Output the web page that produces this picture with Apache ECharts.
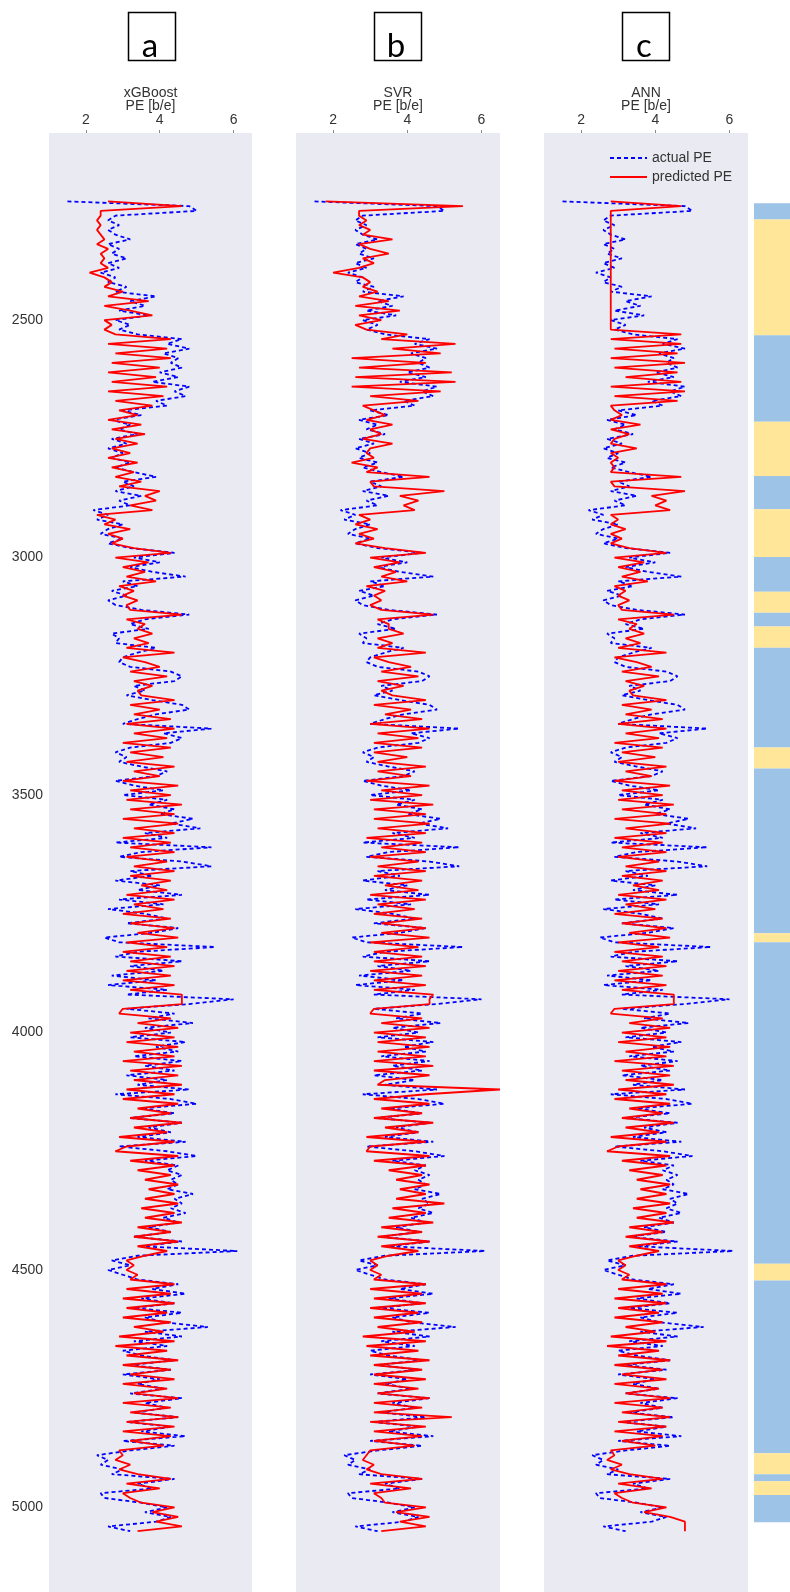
<!DOCTYPE html>
<html>
<head>
<meta charset="utf-8">
<script src="https://cdn.jsdelivr.net/npm/echarts@6/dist/echarts.min.js"></script>
<style>
html,body{margin:0;padding:0;background:#fff;}
#chart{width:790px;height:1592px;}
</style>
</head>
<body>
<div id="chart"></div>
<script>
// ---------------- DATA ----------------
const panelTitles = ['xGBoost', 'SVR', 'ANN'];
const panelLetters = ['a', 'b', 'c'];
const peTicks = [2, 4, 6];
const depthTicks = [2500, 3000, 3500, 4000, 4500, 5000];

const depth = [
2250,2260,2270,2280,2290,2300,2310,2320,2330,2340,
2350,2360,2370,2380,2390,2400,2410,2420,2430,2440,
2450,2460,2470,2480,2490,2500,2510,2520,2530,2540,
2550,2560,2570,2580,2590,2600,2610,2620,2630,2640,
2650,2660,2670,2680,2690,2700,2710,2720,2730,2740,
2750,2760,2770,2780,2790,2800,2810,2820,2830,2840,
2850,2860,2870,2880,2890,2900,2910,2920,2930,2940,
2950,2960,2970,2980,2990,3000,3010,3020,3030,3040,
3050,3060,3070,3080,3090,3100,3110,3120,3130,3140,
3150,3160,3170,3180,3190,3200,3210,3220,3230,3240,
3250,3260,3270,3280,3290,3300,3310,3320,3330,3340,
3350,3360,3370,3380,3390,3400,3410,3420,3430,3440,
3450,3460,3470,3480,3490,3500,3510,3520,3530,3540,
3550,3560,3570,3580,3590,3600,3610,3620,3630,3640,
3650,3660,3670,3680,3690,3700,3710,3720,3730,3740,
3750,3760,3770,3780,3790,3800,3810,3820,3830,3840,
3850,3860,3870,3880,3890,3900,3910,3920,3930,3940,
3950,3960,3970,3980,3990,4000,4010,4020,4030,4040,
4050,4060,4070,4080,4090,4100,4110,4120,4130,4140,
4150,4160,4170,4180,4190,4200,4210,4220,4230,4240,
4250,4260,4270,4280,4290,4300,4310,4320,4330,4340,
4350,4360,4370,4380,4390,4400,4410,4420,4430,4440,
4450,4460,4470,4480,4490,4500,4510,4520,4530,4540,
4550,4560,4570,4580,4590,4600,4610,4620,4630,4640,
4650,4660,4670,4680,4690,4700,4710,4720,4730,4740,
4750,4760,4770,4780,4790,4800,4810,4820,4830,4840,
4850,4860,4870,4880,4890,4900,4910,4920,4930,4940,
4950,4960,4970,4980,4990,5000,5010,5020,5030,5040,
5050];

const actualPE = [
1.5,4.8,5.0,2.8,2.6,2.9,2.6,2.8,3.2,2.6,
2.9,2.7,3.1,2.6,2.9,2.4,2.8,2.6,3.1,2.8,
3.9,3.2,3.6,2.9,3.7,2.8,3.2,2.9,3.4,4.6,
4.2,4.8,4.1,4.5,4.3,4.6,4.0,4.5,3.8,4.8,
4.4,4.7,3.9,4.2,3.0,3.5,2.7,3.2,2.9,3.4,
2.7,3.1,2.6,3.0,2.7,3.2,2.8,3.3,3.9,3.0,
3.3,2.8,3.5,2.9,3.2,2.2,2.6,2.3,3.0,2.6,
2.4,3.0,2.6,3.2,4.4,3.3,4.0,3.2,3.8,4.7,
3.0,3.4,2.7,3.1,2.6,2.8,3.5,4.8,3.6,3.2,
3.7,2.7,2.9,2.8,3.9,3.4,3.0,2.9,3.2,4.3,
4.6,4.4,3.3,3.6,3.1,3.8,4.6,4.8,3.9,3.4,
3.0,5.4,4.1,4.6,4.3,3.2,2.8,3.1,2.9,3.5,
4.2,3.9,2.8,3.3,4.1,3.0,4.2,3.7,4.4,4.0,
4.9,4.3,5.1,3.6,4.2,2.8,5.4,3.5,2.9,4.6,
5.4,3.2,3.8,2.8,4.0,3.4,4.6,2.9,4.1,2.6,
3.6,4.2,3.1,4.5,3.8,2.5,2.9,5.5,3.4,2.8,
4.6,3.2,4.1,2.7,3.9,2.6,4.2,3.1,6.0,4.8,
3.1,4.4,3.7,4.9,3.6,4.3,3.2,4.7,3.9,4.5,
3.3,4.6,3.6,4.4,3.1,4.2,3.4,4.8,2.8,4.3,
5.0,3.5,4.4,3.2,4.6,3.7,4.3,3.4,4.7,2.9,
4.2,5.0,3.6,4.5,4.2,4.6,4.3,4.5,4.2,4.9,
4.4,4.6,4.3,4.7,4.1,4.5,3.7,4.3,3.3,4.6,
3.5,6.1,3.4,2.7,3.2,2.6,3.0,3.4,4.5,3.8,
4.7,3.5,4.4,3.3,4.6,3.6,4.1,5.3,3.6,4.6,
3.3,4.2,3.0,3.5,4.4,3.2,4.3,3.0,4.0,3.4,
4.1,3.2,4.6,3.6,4.2,3.3,4.5,3.1,4.3,3.5,
4.7,3.0,4.4,3.2,2.3,2.6,2.4,3.0,2.7,4.4,
3.4,3.8,2.4,2.5,3.5,4.2,3.6,4.3,3.9,2.6,
3.2];

const xgbPE = [
2.6,4.6,2.4,2.4,2.3,2.4,2.3,2.4,2.5,2.3,
2.6,2.4,2.5,2.4,2.6,2.1,2.5,2.7,2.5,3.0,
2.6,3.7,2.5,3.2,3.8,2.5,2.7,2.5,2.8,4.3,
2.6,4.2,2.8,4.3,2.7,4.0,2.6,3.9,2.7,4.2,
2.6,4.1,2.8,3.8,2.9,3.4,2.6,3.5,2.7,3.6,
2.8,3.4,2.7,3.2,2.6,3.4,2.7,3.3,2.8,3.5,
2.9,4.0,3.6,3.9,3.2,3.8,2.3,2.8,2.5,3.2,
2.6,3.0,2.7,3.3,4.3,2.8,3.7,3.0,3.6,3.1,
3.9,2.9,3.3,3.0,3.4,3.1,3.2,4.6,3.1,3.6,
3.4,3.8,3.3,3.7,3.1,4.4,3.0,3.6,4.0,3.2,
4.2,3.3,3.8,3.4,3.5,4.4,3.2,4.0,3.3,4.3,
3.1,4.4,3.3,4.2,3.0,4.3,3.2,4.1,3.1,4.4,
3.3,4.0,3.0,4.5,3.2,4.3,3.1,4.6,3.2,4.4,
3.0,4.5,3.3,4.4,3.0,4.3,3.2,4.4,3.1,4.2,
3.3,4.4,3.2,4.3,3.5,4.2,3.1,4.4,3.3,4.1,
3.0,4.3,3.2,4.4,3.4,4.5,3.1,4.2,3.0,4.3,
3.2,4.4,3.1,4.3,3.0,4.4,3.2,4.6,4.6,4.6,
3.0,2.9,4.3,3.4,4.5,3.2,4.4,3.1,4.5,3.3,
4.4,3.0,4.6,3.2,4.5,3.3,4.6,3.1,4.4,3.0,
4.5,3.4,4.3,3.2,4.6,3.3,4.2,2.9,4.4,3.1,
2.8,4.5,3.2,4.4,3.4,4.3,3.6,4.5,3.7,4.4,
3.6,4.5,3.5,4.4,3.6,4.6,3.4,4.3,3.3,4.5,
3.4,4.2,3.6,3.1,3.3,3.1,3.4,3.2,4.4,3.1,
4.3,3.0,4.4,3.1,4.2,3.0,4.3,3.3,4.1,2.9,
4.4,2.8,4.2,3.1,4.5,3.0,4.3,3.2,4.4,3.0,
4.2,3.3,4.5,3.0,4.3,3.2,4.5,3.1,4.4,3.0,
4.3,3.2,4.1,2.9,3.0,2.8,3.2,2.9,3.4,4.3,
3.1,4.0,3.0,3.2,3.5,4.4,3.8,4.5,3.9,4.6,
3.4];

const svrPE = [
1.8,5.5,2.7,2.7,2.9,2.7,3.0,2.8,3.6,2.7,
3.0,3.5,2.8,3.1,2.7,2.0,2.8,3.0,2.8,3.2,
2.7,3.5,2.6,3.8,2.7,3.3,2.6,2.9,4.0,3.3,
5.3,3.6,4.9,2.5,4.5,2.7,5.2,2.6,5.3,2.5,
4.9,3.0,4.3,2.8,3.1,3.4,2.9,3.6,3.0,3.3,
2.8,3.6,3.0,2.9,3.1,2.5,3.2,2.9,4.6,3.0,
3.1,5.0,3.8,4.3,3.9,4.2,2.7,3.0,2.6,3.2,
2.7,3.1,2.6,3.4,4.5,3.0,3.8,3.1,3.7,3.3,
4.0,2.9,3.4,3.1,3.3,3.0,3.3,4.7,3.2,3.5,
3.5,3.9,3.2,3.6,3.2,4.5,3.1,3.5,4.1,3.3,
4.3,3.2,3.9,3.3,3.6,4.5,3.1,4.1,3.4,4.4,
3.0,4.6,3.2,4.3,3.1,4.4,3.1,4.0,3.2,4.5,
3.2,4.1,2.9,4.6,3.3,4.4,3.0,4.7,3.1,4.5,
3.1,4.6,3.2,4.5,2.9,4.4,3.3,4.5,3.0,4.3,
3.2,4.5,3.1,4.4,3.4,4.3,3.0,4.5,3.2,4.2,
3.1,4.4,3.3,4.5,3.3,4.6,3.0,4.3,3.1,4.4,
3.1,4.5,3.0,4.4,3.1,4.5,3.1,4.7,4.6,4.6,
3.1,3.0,4.4,3.3,4.6,3.1,4.5,3.2,4.6,3.2,
4.5,3.1,4.7,3.1,4.6,3.4,3.2,6.5,4.5,3.1,
4.6,3.3,4.4,3.1,4.7,3.4,4.3,2.9,4.5,3.0,
2.9,4.6,3.1,4.5,3.5,4.4,3.7,4.6,3.8,4.5,
3.7,5.0,3.6,4.5,3.5,4.7,3.3,4.4,3.2,4.6,
3.3,4.3,3.5,3.0,3.2,3.0,3.3,3.1,4.5,3.0,
4.4,3.1,4.5,3.0,4.3,3.1,4.4,3.2,4.2,2.8,
4.5,2.9,4.3,3.0,4.6,3.1,4.4,3.1,4.5,3.1,
4.3,3.2,4.6,3.1,4.4,3.1,5.2,3.0,4.5,3.1,
4.4,3.1,4.2,3.0,2.9,2.8,3.1,2.9,3.3,4.4,
3.0,4.1,3.1,3.3,3.4,4.5,3.7,4.6,3.8,4.5,
3.3];

const annPE = [
2.8,4.7,2.8,2.8,2.8,2.8,2.8,2.8,2.8,2.8,
2.8,2.8,2.8,2.8,2.8,2.8,2.8,2.8,2.8,2.8,
2.8,2.8,2.8,2.8,2.8,2.8,2.8,2.8,4.7,2.8,
4.7,2.9,4.6,2.8,4.8,2.9,4.6,3.2,4.7,2.8,
4.8,2.9,4.6,2.8,2.9,3.1,2.8,3.6,2.8,3.3,
2.9,2.8,3.5,2.8,3.0,2.8,2.9,2.8,4.7,2.8,
2.9,4.8,3.9,4.3,4.0,4.4,2.8,3.0,2.8,3.2,
2.8,3.1,2.8,3.3,4.3,2.9,3.7,3.0,3.6,3.1,
3.8,2.9,3.2,3.0,3.3,3.0,3.1,4.5,3.0,3.5,
3.3,3.7,3.2,3.6,3.0,4.3,2.9,3.5,3.9,3.1,
4.1,3.2,3.7,3.3,3.4,4.3,3.1,3.9,3.2,4.2,
3.0,4.3,3.2,4.1,2.9,4.2,3.1,4.0,3.0,4.3,
3.2,3.9,2.9,4.4,3.1,4.2,3.0,4.5,3.1,4.3,
2.9,4.4,3.2,4.3,2.9,4.2,3.1,4.3,3.0,4.1,
3.2,4.3,3.1,4.2,3.4,4.1,3.0,4.3,3.2,4.0,
2.9,4.2,3.1,4.3,3.3,4.4,3.0,4.1,2.9,4.2,
3.1,4.3,3.0,4.2,2.9,4.3,3.1,4.5,4.5,4.5,
2.9,2.8,4.2,3.3,4.4,3.1,4.3,3.0,4.4,3.2,
4.3,2.9,4.5,3.1,4.4,3.2,4.5,3.0,4.3,2.9,
4.4,3.3,4.2,3.1,4.5,3.2,4.1,2.8,4.3,3.0,
2.7,4.4,3.1,4.3,3.3,4.2,3.5,4.4,3.6,4.3,
3.5,4.4,3.4,4.3,3.5,4.5,3.3,4.2,3.2,4.4,
3.3,4.1,3.5,3.0,3.2,3.0,3.3,3.1,4.3,3.0,
4.2,2.9,4.3,3.0,4.1,2.9,4.2,3.2,4.0,2.8,
4.3,2.7,4.1,3.0,4.4,2.9,4.2,3.1,4.3,2.9,
4.1,3.2,4.4,2.9,4.2,3.1,4.4,3.0,4.3,2.9,
4.2,3.1,4.0,2.8,2.9,2.7,3.1,2.8,3.3,4.2,
3.0,3.9,2.9,3.1,3.4,4.3,3.7,4.4,4.8,4.8,
4.8];

// lithology column: top depth, bottom depth, class (0 = blue, 1 = yellow)
const lithTop    = [2254,2288,2532,2714,2828,2898,2999,3072,3116,3145,3190,3400,3444,3791,3810,4487,4522,4886,4930,4945,4974];
const lithBottom = [2288,2532,2714,2828,2898,2999,3072,3116,3145,3190,3400,3444,3791,3810,4487,4522,4886,4930,4945,4974,5031];
const lithClass  = [0,1,0,1,0,1,0,1,0,1,0,1,0,1,0,1,0,1,0,1,0];

const predictions = [xgbPE, svrPE, annPE];

// ---------------- CHART ----------------
const FONT = 'Liberation Sans, Arial, sans-serif';
const depthMin = 2106, depthMax = 5178;
const panelLeft = [49, 296, 544];
const panelWidth = [203, 204, 204];
const lithColors = ['#9DC3E6', '#FFE699'];

const grid = [], xAxis = [], yAxis = [], series = [];
for (let i = 0; i < 3; i++) {
  grid.push({left: panelLeft[i], width: panelWidth[i], top: 133, bottom: 0,
             show: true, backgroundColor: '#EAEAF2', borderWidth: 0});
  xAxis.push({
    type: 'value', gridIndex: i, position: 'top', min: 1, max: 6.5,
    name: panelTitles[i] + '\nPE [b/e]', nameLocation: 'middle', nameGap: 20,
    nameMoveOverlap: false,
    nameTextStyle: {fontSize: 14, lineHeight: 13.5, color: '#333', fontFamily: FONT},
    axisLine: {show: false}, splitLine: {show: false},
    axisTick: {show: true, customValues: peTicks, length: 3, lineStyle: {color: '#888'}},
    axisLabel: {customValues: peTicks, fontSize: 14, margin: 6, color: '#333', fontFamily: FONT}
  });
  yAxis.push({
    type: 'value', gridIndex: i, inverse: true, min: depthMin, max: depthMax,
    axisLine: {show: false}, splitLine: {show: false}, axisTick: {show: false},
    axisLabel: i === 0 ? {customValues: depthTicks, fontSize: 14, margin: 6, color: '#333',
                          fontFamily: FONT, formatter: v => String(v)}
                       : {show: false}
  });
  series.push({
    name: 'actual PE', type: 'line', xAxisIndex: i, yAxisIndex: i,
    data: depth.map((d, k) => [actualPE[k], d]),
    symbol: 'none', showSymbol: false, animation: false,
    lineStyle: {color: '#0000FF', width: 1.8, type: [4, 3]},
    itemStyle: {color: '#0000FF'}
  });
  series.push({
    name: 'predicted PE', type: 'line', xAxisIndex: i, yAxisIndex: i,
    data: depth.map((d, k) => [predictions[i][k], d]),
    symbol: 'none', showSymbol: false, animation: false,
    lineStyle: {color: '#FF0000', width: 1.8},
    itemStyle: {color: '#FF0000'}
  });
}
// lithology column
grid.push({left: 754, right: 0, top: 133, bottom: 0});
xAxis.push({type: 'value', gridIndex: 3, min: 0, max: 1, show: false});
yAxis.push({type: 'value', gridIndex: 3, inverse: true, min: depthMin, max: depthMax, show: false});
series.push({
  type: 'custom', xAxisIndex: 3, yAxisIndex: 3, animation: false, silent: true,
  data: lithTop.map((t, k) => [0, t, lithBottom[k], lithClass[k]]),
  encode: {x: 0, y: [1, 2]},
  renderItem: function (params, api) {
    const p1 = api.coord([0, api.value(1)]);
    const p2 = api.coord([1, api.value(2)]);
    return {type: 'rect',
      shape: {x: p1[0], y: p1[1], width: p2[0] - p1[0], height: p2[1] - p1[1]},
      style: {fill: lithColors[api.value(3)]}};
  }
});

// boxed panel letters
const boxX = [126, 372, 620];
const graphic = [];
for (let i = 0; i < 3; i++) {
  graphic.push({type: 'rect', left: boxX[i], top: 10,
    shape: {width: 47, height: 48}, style: {fill: 'none', stroke: '#000', lineWidth: 1.5}});
  graphic.push({type: 'text', x: boxX[i] + 24, y: 46,
    style: {text: panelLetters[i], font: '33px Lato, "Open Sans", sans-serif', fill: '#000',
            textAlign: 'center', textVerticalAlign: 'middle'}});
}

const chart = echarts.init(document.getElementById('chart'), null, {renderer: 'canvas'});
chart.setOption({
  backgroundColor: '#fff',
  animation: false,
  grid, xAxis, yAxis, series, graphic,
  legend: {
    data: ['actual PE', 'predicted PE'], orient: 'vertical', left: 604, top: 146,
    itemWidth: 37, itemHeight: 14, itemGap: 5,
    itemStyle: {opacity: 0},
    textStyle: {fontSize: 14, color: '#333', fontFamily: FONT}
  }
});
</script>
</body>
</html>
